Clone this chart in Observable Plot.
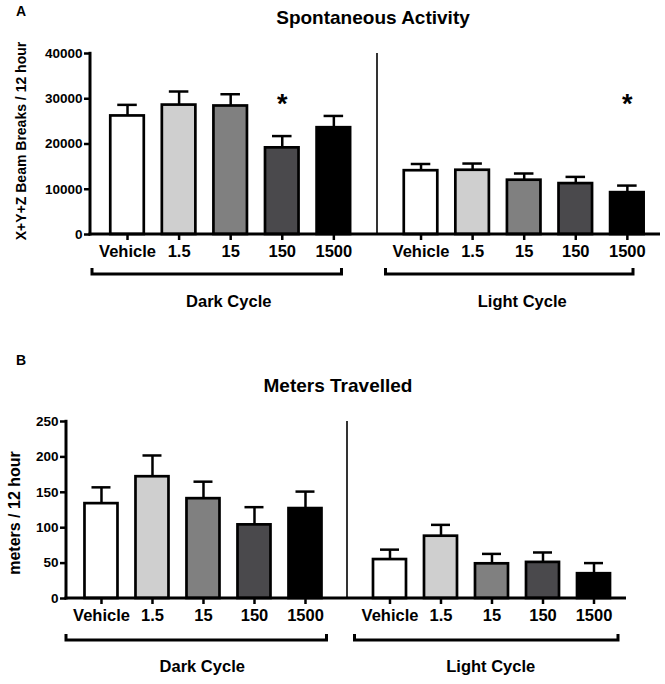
<!DOCTYPE html>
<html><head><meta charset="utf-8">
<script src="https://cdn.jsdelivr.net/npm/d3@7"></script>
<script src="https://cdn.jsdelivr.net/npm/@observablehq/plot@0.6"></script>
<style>
body{margin:0;background:#fff;font-family:"Liberation Sans",Arial,sans-serif;}
#root{position:relative;width:665px;height:684px;overflow:hidden;background:#fff;}
.lbl{position:absolute;font-weight:bold;color:#000;white-space:nowrap;line-height:1;}
.rot{transform:translate(-50%,-50%) rotate(-90deg);}
.ctr{transform:translateX(-50%);}
</style></head><body><div id="root"></div>
<script>
// ---- data ----
const cycles = ["Dark Cycle", "Light Cycle"];
const doses = ["Vehicle", "1.5", "15", "150", "1500"];
const doseColors = ["#ffffff", "#cfcfcf", "#808080", "#4a494c", "#000000"];

const activityDark = [26200, 28600, 28400, 19150, 23600];
const activityDarkSem = [2450, 3000, 2600, 2600, 2600];
const activityLight = [14100, 14200, 12000, 11250, 9250];
const activityLightSem = [1480, 1480, 1480, 1480, 1560];
const activityTicks = [0, 10000, 20000, 30000, 40000];
const activitySig = [
  {cycle: "Dark Cycle", dose: "150", y: 30000},
  {cycle: "Light Cycle", dose: "1500", y: 30000}
];

const metersDark = [134, 172, 141, 104, 127];
const metersDarkSem = [23, 30, 24, 25, 24];
const metersLight = [55, 88, 49, 51, 35];
const metersLightSem = [14, 16, 14, 14, 15];
const metersTicks = [0, 50, 100, 150, 200, 250];

function rowsOf(dark, darkSem, light, lightSem) {
  const rows = [];
  doses.forEach((d, i) => rows.push({cycle: cycles[0], dose: d, mean: dark[i], sem: darkSem[i]}));
  doses.forEach((d, i) => rows.push({cycle: cycles[1], dose: d, mean: light[i], sem: lightSem[i]}));
  return rows;
}

const FONT = "'Liberation Sans', Arial, Helvetica, sans-serif";

function panel(cfg) {
  const {rows, ticks, sig} = cfg;
  const yMax = ticks[ticks.length - 1];
  const marks = [
    Plot.ruleX(rows, {fx: "cycle", x: "dose", y1: "mean", y2: d => d.mean + d.sem, stroke: "black", strokeWidth: 2.5}),
    Plot.tickY(rows, {fx: "cycle", x: "dose", y: d => d.mean + d.sem, stroke: "black", strokeWidth: 2.5, insetLeft: 7, insetRight: 7}),
    Plot.barY(rows, {fx: "cycle", x: "dose", y: "mean", fill: "dose", stroke: "black", strokeWidth: 2.7}),
    Plot.axisY({ticks, tickSize: 6, tickPadding: 2, strokeWidth: 2.5, fontSize: 13.5, fontWeight: "bold", label: null, tickFormat: d3.format("d")}),
    Plot.axisX({tickSize: 6, tickPadding: 5, strokeWidth: 2.5, fontSize: 16.5, fontWeight: "bold", label: null}),
    Plot.text(cycles, {fx: d => d, text: d => d, frameAnchor: "bottom", dy: cfg.cycleDy, fontSize: 16.5, fontWeight: "bold"})
  ];
  if (sig) marks.push(Plot.text(sig, {fx: "cycle", x: "dose", y: "y", text: () => "*", fontSize: 27, fontWeight: "bold", dy: 6}));
  const chart = Plot.plot({
    width: 665, height: cfg.height,
    marginLeft: cfg.marginLeft, marginRight: cfg.marginRight,
    marginTop: cfg.marginTop, marginBottom: cfg.marginBottom,
    style: {fontFamily: FONT, fontWeight: "bold", color: "black", background: "transparent", overflow: "visible"},
    fx: {domain: cycles, paddingInner: cfg.fxPad, paddingOuter: 0, round: false, axis: null},
    x: {domain: doses, paddingInner: cfg.xPadIn, paddingOuter: cfg.xPadOut, align: cfg.xAlign, round: false, axis: null},
    y: {domain: [0, yMax], axis: null},
    color: {type: "ordinal", domain: doses, range: doseColors},
    marks
  });
  // axis lines, divider and brackets positioned from Plot's scales
  const fx = chart.scale("fx"), y = chart.scale("y");
  const bw = fx.bandwidth;
  const xd = fx.apply(cycles[0]), xl = fx.apply(cycles[1]);
  const y0 = y.apply(0), yT = y.apply(yMax);
  const g = d3.select(chart).append("g").attr("stroke", "black").attr("fill", "none");
  g.append("line").attr("x1", xd).attr("x2", xd).attr("y1", yT - 1.2).attr("y2", y0 + 1.5).attr("stroke-width", 3);
  g.append("line").attr("x1", xd - 1.5).attr("x2", xl + bw).attr("y1", y0).attr("y2", y0).attr("stroke-width", 3);
  const mid = (xd + bw + xl) / 2 + cfg.divShift;
  g.append("line").attr("x1", mid).attr("x2", mid).attr("y1", yT).attr("y2", y0).attr("stroke-width", 1.6);
  const by = y0 + cfg.bracketDy;
  [[xd, cfg.brD], [xl, cfg.brL]].forEach(([x, [a, b]]) => {
    g.append("path").attr("stroke-width", 3).attr("stroke-linejoin", "miter")
      .attr("d", `M${x + a},${by - 6}V${by}H${x + bw - b}V${by - 6}`);
  });
  return chart;
}

const root = document.getElementById("root");
function label(text, css, cls) {
  const d = document.createElement("div");
  d.className = "lbl " + (cls || "");
  d.textContent = text;
  Object.assign(d.style, css);
  root.appendChild(d);
}

const chartA = panel({
  rows: rowsOf(activityDark, activityDarkSem, activityLight, activityLightSem),
  ticks: activityTicks, sig: activitySig,
  height: 285, marginTop: 13, marginBottom: 91, marginLeft: 90, marginRight: 5,
  fxPad: 0.058, xPadIn: 0.35, xPadOut: 0.355, xAlign: 0.553,
  cycleDy: 72, bracketDy: 40, brD: [2, 25], brL: [2, 27], divShift: 2
});
chartA.style.position = "absolute"; chartA.style.left = "0px"; chartA.style.top = "40px";
root.appendChild(chartA);

const chartB = panel({
  rows: rowsOf(metersDark, metersDarkSem, metersLight, metersLightSem),
  ticks: metersTicks, sig: null,
  height: 284, marginTop: 21, marginBottom: 86, marginLeft: 66, marginRight: 39,
  fxPad: 0.059, xPadIn: 0.353, xPadOut: 0.338, xAlign: 0.536,
  cycleDy: 73, bracketDy: 42, brD: [0, 11], brL: [0, 8], divShift: 1
});
chartB.style.position = "absolute"; chartB.style.left = "0px"; chartB.style.top = "400px";
root.appendChild(chartB);

label("A", {left: "16px", top: "4px", fontSize: "14px"});
label("B", {left: "16px", top: "353px", fontSize: "14px"});
label("Spontaneous Activity", {left: "373px", top: "8px", fontSize: "19px"}, "ctr");
label("Meters Travelled", {left: "338px", top: "376px", fontSize: "19px"}, "ctr");
label("X+Y+Z Beam Breaks / 12 hour", {left: "21px", top: "141px", fontSize: "14px"}, "rot");
label("meters / 12 hour", {left: "15px", top: "513px", fontSize: "16px"}, "rot");
</script></body></html>
